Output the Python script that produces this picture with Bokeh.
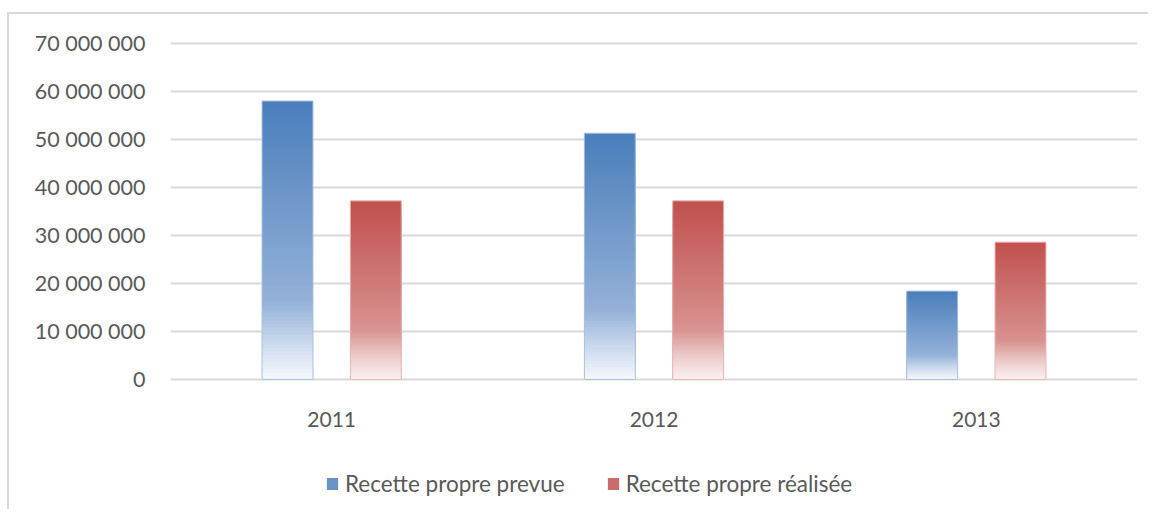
from bokeh.plotting import figure
from bokeh.models import FactorRange, Range1d, ColumnDataSource, FixedTicker, Legend, LegendItem
from bokeh.core.properties import value
from bokeh.transform import dodge
from bokeh.embed import file_html
from bokeh.resources import INLINE

categories = ["2011", "2012", "2013"]
prevue = [58_000_000, 51_300_000, 18_400_000]
realisee = [37_200_000, 37_200_000, 28_600_000]
series_names = ["Recette propre prevue", "Recette propre réalisée"]
y_ticks = [0, 10_000_000, 20_000_000, 30_000_000, 40_000_000, 50_000_000, 60_000_000, 70_000_000]
y_tick_labels = ["0", "10 000 000", "20 000 000", "30 000 000", "40 000 000",
                 "50 000 000", "60 000 000", "70 000 000"]

FONT = "Lato"
TXT = "#595959"

blue_stops = [(0.0, (74, 126, 187)), (0.72, (148, 177, 216)), (0.86, (200, 215, 236)), (1.0, (246, 249, 253))]
red_stops = [(0.0, (192, 80, 77)), (0.72, (216, 146, 144)), (0.86, (234, 200, 199)), (1.0, (251, 242, 242))]


def grad(stops, t):
    for (t0, c0), (t1, c1) in zip(stops[:-1], stops[1:]):
        if t0 <= t <= t1:
            f = (t - t0) / (t1 - t0) if t1 > t0 else 0
            return "#%02x%02x%02x" % tuple(int(round(a + (b - a) * f)) for a, b in zip(c0, c1))
    return "#%02x%02x%02x" % stops[-1][1]


def slices(values, stops, n=80):
    xs, tops, cols = [], [], []
    for k in range(n):
        t = k / n
        for c, v in zip(categories, values):
            xs.append(c)
            tops.append(v * (1 - t))
            cols.append(grad(stops, t + 0.5 / n))
    return ColumnDataSource(dict(x=xs, top=tops, color=cols))


# the frame reaches down to the legend; the value axis starts at 0 (ticks 0..70M only)
p = figure(width=1141, height=497, x_range=FactorRange(*categories, range_padding=0),
           y_range=Range1d(-26_266_667, 70_400_000), output_backend="svg", toolbar_location=None,
           min_border_left=161, min_border_right=13, min_border_top=27, min_border_bottom=6)
p.margin = (12, 0, 0, 7)
p.styles = {"border-top": "2px solid #d9d9d9", "border-left": "2px solid #d9d9d9"}
p.outline_line_color = None
p.background_fill_color = "white"
p.border_fill_color = "white"

W = 0.158
OFF = 0.137

legend_items = []
for vals, stops, off, name, edge in [(prevue, blue_stops, -OFF, series_names[0], "#a9c1e2"),
                                     (realisee, red_stops, OFF, series_names[1], "#e8b5b4")]:
    src = slices(vals, stops)
    p.vbar(x=dodge("x", off, range=p.x_range), top="top", bottom=0, width=W, source=src,
           fill_color="color", line_color=None)
    osrc = ColumnDataSource(dict(x=categories, top=vals))
    p.vbar(x=dodge("x", off, range=p.x_range), top="top", bottom=0, width=W, source=osrc,
           fill_alpha=0, line_color=edge, line_width=1)
    lsrc = ColumnDataSource(dict(x=categories[:1], top=[0]))
    r = p.vbar(x=dodge("x", off, range=p.x_range), top="top", bottom=0, width=0, source=lsrc,
               fill_color=grad(stops, 0.3), line_color=None)
    legend_items.append(LegendItem(label=name, renderers=[r]))

# category labels under the baseline
p.text(x=categories, y=[0] * len(categories), text=categories, y_offset=40,
       text_align="center", text_baseline="middle", text_font=value(FONT),
       text_font_size="21px", text_color=TXT)
p.xaxis.visible = False

p.yaxis.ticker = FixedTicker(ticks=y_ticks)
p.yaxis.major_label_overrides = {t: l for t, l in zip(y_ticks, y_tick_labels)}
p.yaxis.axis_line_color = None
p.yaxis.major_tick_line_color = None
p.yaxis.minor_tick_line_color = None
p.yaxis.major_label_text_font = FONT
p.yaxis.major_label_text_color = TXT
p.yaxis.major_label_text_font_size = "21.5px"
p.yaxis.major_label_standoff = 19

p.xgrid.grid_line_color = None
p.ygrid.grid_line_color = "#d9d9d9"
p.ygrid.grid_line_width = 2

legend = Legend(items=legend_items, orientation="horizontal", location=(155, 8),
                padding=0, margin=0, spacing=41, label_standoff=6,
                glyph_width=14, glyph_height=15,
                label_text_font=FONT, label_text_font_size="22.5px", label_text_color=TXT,
                border_line_color=None, background_fill_alpha=0)
p.add_layout(legend, "center")

open("out.html", "w").write(file_html(p, INLINE))
